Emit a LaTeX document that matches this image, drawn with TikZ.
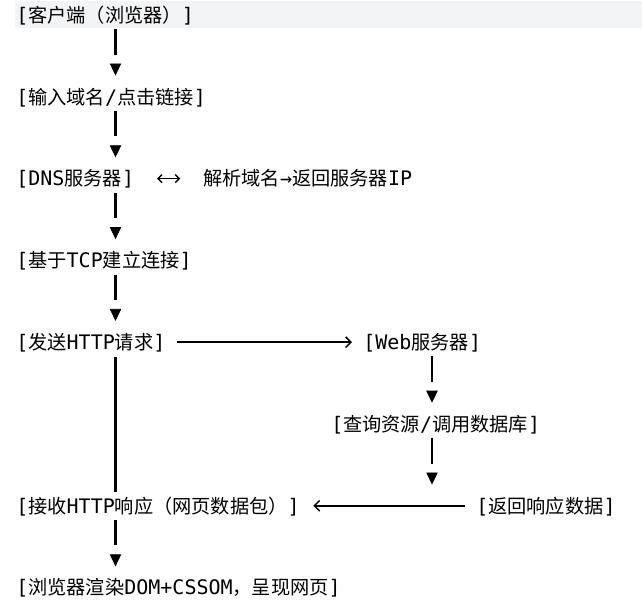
\documentclass[tikz,border=0pt]{standalone}
\usepackage{fontspec}
\setmainfont{DejaVu Sans Mono}
\newfontfamily\cjk[Scale=0.96]{Noto Sans CJK SC}
\usetikzlibrary{arrows.meta}
\newcommand\zh[1]{{\cjk #1}}
\definecolor{bandgray}{RGB}{243,244,246}
\tikzset{
  txt/.style={anchor=west, inner sep=0pt, text height=13pt, text depth=2pt,
    font=\fontsize{15pt}{18pt}\selectfont},
  vflow/.style={line width=0.6pt, dash pattern=on 0pt off 400pt, shorten >=8.25pt,
    -{Triangle[length=9pt,width=8.5pt]},
    preaction={draw, solid, line width=1.7pt, -, shorten <=3pt, shorten >=24pt}},
  vbar/.style={line width=1.7pt, shorten <=3.6pt, shorten >=2.9pt},
  hflow/.style={line width=1.3pt, -{Straight Barb[length=4pt,width=8pt,line width=1.1pt]}},
  both/.style={line width=1.1pt,
    {Straight Barb[length=3pt,width=6pt]}-{Straight Barb[length=3pt,width=6pt]}},
}
\begin{document}
\begin{tikzpicture}[x=0.75pt,y=-0.75pt]
\useasboundingbox (0,0) rectangle (642,609);
\fill[bandgray] (15,1.5) rectangle (642,28);
\coordinate (lc) at (115.5,0);
\coordinate (rc) at (432,0);
\node[txt] (client) at (16,15) {[\zh{客户端（浏览器）}]};
\node[txt] (input) at (16,96.8) {[\zh{输入域名}/\zh{点击链接}]};
\node[txt] (dns) at (16,178.6) {[DNS\zh{服务器}]};
\node[txt] (parse) at (203,178.6) {\zh{解析域名}→\zh{返回服务器}IP};
\node[txt] (tcp) at (16,260.4) {[\zh{基于}TCP\zh{建立连接}]};
\node[txt] (send) at (16,342.2) {[\zh{发送}HTTP\zh{请求}]};
\node[txt] (web) at (363,342.2) {[Web\zh{服务器}]};
\node[txt] (query) at (331,424) {[\zh{查询资源}/\zh{调用数据库}]};
\node[txt] (recv) at (16,505.8) {[\zh{接收}HTTP\zh{响应（网页数据包）}]};
\node[txt] (ret) at (476,505.8) {[\zh{返回响应数据}]};
\node[txt] (render) at (16,587.6) {[\zh{浏览器渲染}DOM+CSSOM\zh{，呈现网页}]};

\draw[vflow] (client.south -| lc) -- (input.north -| lc);
\draw[vflow] (input.south -| lc) -- (dns.north -| lc);
\draw[vflow] (dns.south -| lc) -- (tcp.north -| lc);
\draw[vflow] (tcp.south -| lc) -- (send.north -| lc);
\draw[vbar] (send.south -| lc) -- (recv.north -| lc);
\draw[vflow] (recv.south -| lc) -- (render.north -| lc);
\draw[vflow] (web.south -| rc) -- (query.north -| rc);
\draw[vflow] (query.south -| rc) -- (ret.north -| rc);
\draw[both, shorten <=17pt, shorten >=17pt] (dns) -- (parse);
\draw[hflow, shorten <=8.25pt, shorten >=8.25pt] (send) -- (web);
\draw[hflow, shorten <=8.25pt, shorten >=10pt] (ret) -- (recv);
\end{tikzpicture}
\end{document}
